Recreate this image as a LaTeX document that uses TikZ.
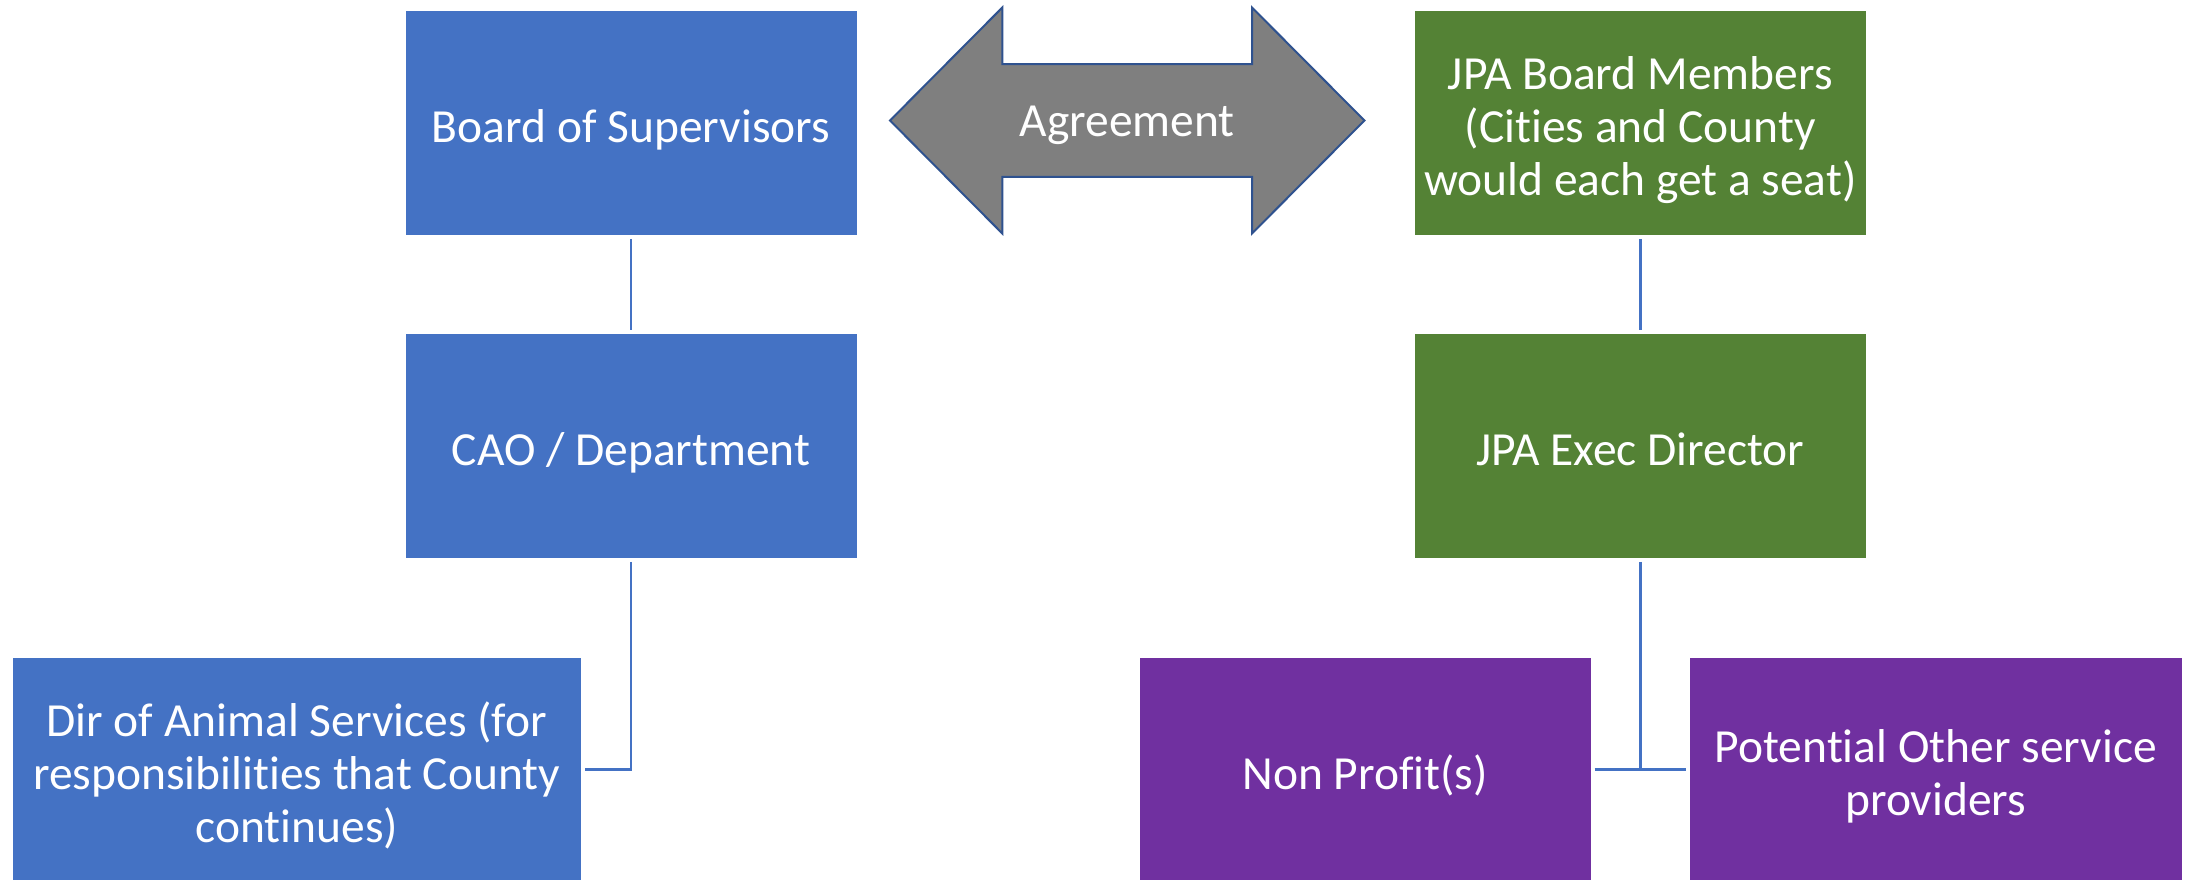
\documentclass[tikz,border=0pt]{standalone}
\usepackage{fontspec}
\setmainfont{Carlito}[Ligatures={NoCommon,NoContextual}]
\definecolor{boxblue}{HTML}{4472C4}
\definecolor{boxgreen}{HTML}{548235}
\definecolor{boxpurple}{HTML}{7030A0}
\definecolor{arrowgray}{HTML}{7F7F7F}
\definecolor{arrowedge}{HTML}{2F528F}
\newcommand{\lnstrut}{\rule[-14pt]{0pt}{67.4pt}}
\newcommand{\boxfont}{\fontsize{47.5}{53}\selectfont}
\lineskiplimit=-100pt\relax
\begin{document}
\begin{tikzpicture}[x=1pt,y=-1pt,
  txt/.style={text=white, font=\boxfont},
  orgbox/.style={txt, minimum width=452pt, minimum height=224.6pt, inner sep=0pt,
    align=center, draw=white, line width=1pt},
  bluebox/.style={orgbox, fill=boxblue},
  greenbox/.style={orgbox, fill=boxgreen},
  purplebox/.style={orgbox, fill=boxpurple},
  conn/.style={draw=boxblue, line width=2.5pt, shorten <=3pt, shorten >=3pt},
  agree/.style={fill=arrowgray, draw=arrowedge, line width=2pt, line join=miter}]
\fill[white] (0,0) rectangle (2195,879);
\useasboundingbox (0,0) rectangle (2195,879);
\begin{scope}
\clip (0,0) rectangle (2195,879);
\node[bluebox] (bos) at (631,123) {\lnstrut Board of Supervisors};
\node[bluebox] (cao) at (631,446) {\lnstrut CAO / Department};
\node[greenbox] (jpa) at (1640.3,123) {\lnstrut JPA Board Members\\\lnstrut (Cities and County\\\lnstrut would each get a seat)};
\node[greenbox] (exec) at (1640.3,446) {\lnstrut JPA Exec Director};
\node[bluebox, minimum width=569.6pt] (dir) at (296.8,769.6) {\lnstrut Dir of Animal Services (for\\\lnstrut responsibilities that County\\\lnstrut continues)};
\node[purplebox] (np) at (1365.1,769.6) {\lnstrut Non Profit(s)};
\node[purplebox, minimum width=493.1pt] (pot) at (1935.8,769.6) {\lnstrut Potential Other service\\\lnstrut providers};

\draw[agree] (890,120.5) -- (1002.3,7.5) -- (1002.3,64.2) -- (1252,64.2) -- (1252,7.5)
  -- (1364.4,120.5) -- (1252,233.5) -- (1252,176.8) -- (1002.3,176.8) -- (1002.3,233.5) -- cycle;
\node[txt, anchor=base, inner sep=0pt] (agr) at (1127.2,136.7) {Agreement};

\draw[conn] (bos.south) -- (cao.north);
\draw[conn] (cao.south) |- (dir.east);
\draw[conn] (jpa.south) -- (exec.north);
\draw[conn] (np.east) -- (pot.west);
\draw[conn, shorten >=0pt] (exec.south) -- (exec.south |- np.east);
\end{scope}
\end{tikzpicture}
\end{document}
